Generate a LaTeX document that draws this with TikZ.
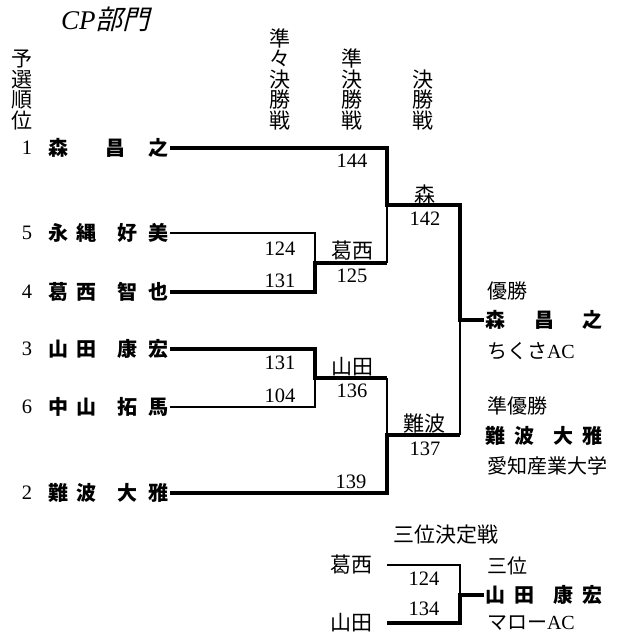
\documentclass[tikz,border=0pt]{standalone}
\usepackage{fontspec}
\setmainfont{Liberation Serif}
\newfontfamily\jp{Noto Sans CJK JP}
\newfontfamily\jpslant{Noto Sans CJK JP}[FakeSlant=0.25]
\usetikzlibrary{positioning}
\newcommand{\pname}[4]{\hbox to 120pt{#1\hspace{8pt}#2\hfill #3\hspace{11pt}#4}}

\begin{document}
\begin{tikzpicture}[x=1pt,y=-1pt,
	every node/.style={inner sep=0pt,outer sep=0pt,font=\fontsize{20}{20}\selectfont},
	player/.style={anchor=west,outer xsep=1.5pt,font=\jp\bfseries\fontsize{20}{20}\selectfont},
	num/.style={font=\fontsize{20.5}{20}\selectfont},
	jtext/.style={font=\jp\fontsize{21}{21}\selectfont},
	vhead/.style={anchor=south,align=center,font=\jp\fontsize{21}{20.5}\selectfont},
	info/.style={anchor=west,font=\jp\fontsize{20}{20}\selectfont},
	win/.style={line width=4pt},
	lose/.style={line width=1.6pt}]
	\useasboundingbox (0,0) rectangle (618,633);
	% headings
	\node[anchor=west] (title) at (61,19) {\fontsize{27}{27}\selectfont\itshape CP{\jpslant 部門}};
	\node[vhead] (hrank) at (22,130) {予\\選\\順\\位};
	\node[vhead] (hqf) at (280,130) {準\\々\\決\\勝\\戦};
	\node[vhead] (hsf) at (352,130) {準\\決\\勝\\戦};
	\node[vhead] (hf) at (423,130) {決\\勝\\戦};
	% seeds
	\node[num] (r1) at (27,148) {1};
	\node[num] (r5) at (27,233) {5};
	\node[num] (r4) at (27,292) {4};
	\node[num] (r3) at (27,349) {3};
	\node[num] (r6) at (27,407) {6};
	\node[num] (r2) at (27,493) {2};
	\node[player] (mori) at (47,148) {\hbox to 120pt{森\hfill 昌\hspace{23pt}之}};
	\node[player] (nagai) at (47,233) {\pname{永}{縄}{好}{美}};
	\node[player] (kasai) at (47,292) {\pname{葛}{西}{智}{也}};
	\node[player] (yamada) at (47,349) {\pname{山}{田}{康}{宏}};
	\node[player] (nakayama) at (47,407) {\pname{中}{山}{拓}{馬}};
	\node[player] (namba) at (47,493) {\pname{難}{波}{大}{雅}};
	% junctions
	\coordinate (q1) at (315,263);
	\coordinate (q2) at (315,378);
	\coordinate (s1) at (387,205);
	\coordinate (s1b) at (387,263);
	\coordinate (s2) at (387,435);
	\coordinate (s2a) at (387,378);
	\coordinate (f) at (460,320);
	\coordinate (f2) at (460,435);
	% winners
	\node[player] (champ) at (484,320) {\hbox to 117pt{森\hfill 昌\hfill 之}};
	\node[player] (runner) at (484,436) {\hbox to 117pt{難\hspace{9pt}波\hfill 大\hspace{9pt}雅}};
	\node[info] (champhd) at (487,291) {優勝};
	\node[info] (champclub) at (487,351) {ちくさ{\rmfamily AC}};
	\node[info] (runnerhd) at (487,406) {準優勝};
	\node[info] (runnerclub) at (487,466) {愛知産業大学};
	% bracket
	\draw[lose] (nagai.east) -| (q1);
	\draw[lose] (s1b) -- (s1);
	\draw[lose] (nakayama.east) -| (q2);
	\draw[lose] (s2a) -- (s2);
	\draw[lose] (f2) -- (f);
	\draw[win] (kasai.east) -| (q1) -- (s1b);
	\draw[win] (mori.east) -| (s1) -| (f) -- (champ.west);
	\draw[win] (yamada.east) -| (q2) -- (s2a);
	\draw[win] (namba.east) -| (s2) -- (f2);
	% scores
	\node[num] (a1) at (280,249) {124};
	\node[num] (a2) at (280,281) {131};
	\node[num] (a3) at (280,363) {131};
	\node[num] (a4) at (280,396) {104};
	\node[num] (b1) at (352,161) {144};
	\node[jtext] (b2) at (352,251) {葛西};
	\node[num] (b3) at (352,276) {125};
	\node[jtext] (b4) at (352,367) {山田};
	\node[num] (b5) at (352,391) {136};
	\node[num] (b6) at (351,482) {139};
	\node[jtext] (c1) at (425,195) {森};
	\node[num] (c2) at (425,219) {142};
	\node[jtext] (c3) at (424,424) {難波};
	\node[num] (c4) at (425,449) {137};
	% third place
	\node[jtext] (thd) at (446,535) {三位決定戦};
	\node[jtext,anchor=east,inner xsep=15pt] (k3) at (387,565) {葛西};
	\node[jtext,anchor=east,inner xsep=15pt] (y3) at (387,623) {山田};
	\coordinate (t) at (460,595);
	\node[player] (third) at (484,595) {\hbox to 117pt{山\hspace{9pt}田\hfill 康\hspace{9pt}宏}};
	\node[info] (thirdhd) at (487,566) {三位};
	\node[info] (thirdclub) at (487,623) {マロー{\rmfamily AC}};
	\draw[lose] (k3.east) -| (t);
	\draw[win] (y3.east) -| (t) -- (third.west);
	\node[num] (d1) at (424,579) {124};
	\node[num] (d2) at (424,609) {134};
\end{tikzpicture}
\end{document}
